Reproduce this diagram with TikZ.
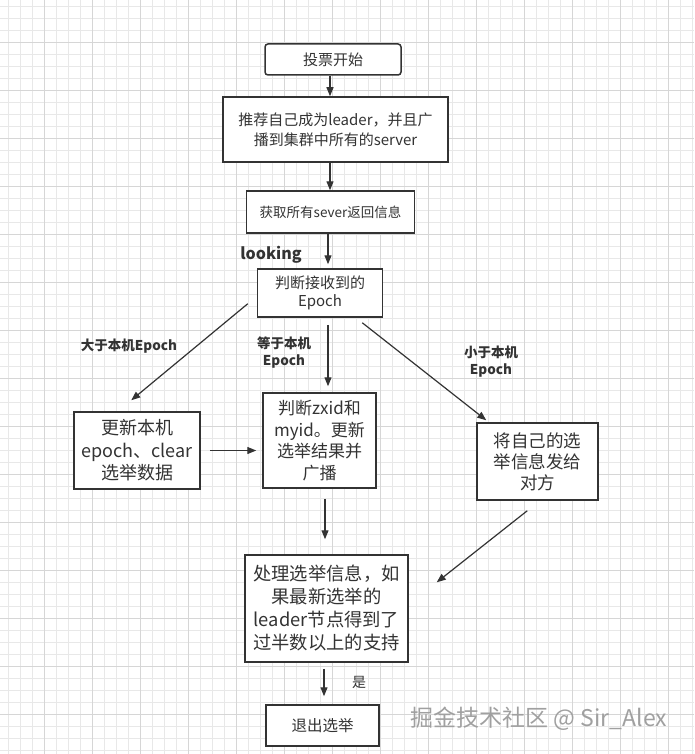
\documentclass[tikz,border=0pt]{standalone}
\usepackage{fontspec}
\setmainfont{Noto Sans CJK SC}
\usetikzlibrary{arrows.meta}
\definecolor{ink}{HTML}{333333}
\definecolor{gridminor}{HTML}{E8E8E8}
\definecolor{gridmajor}{HTML}{D6D6D6}
\definecolor{wm}{HTML}{A0A0A0}
\newcommand{\fs}[2]{\fontsize{#1}{#2}\selectfont}
\tikzset{
  box/.style={draw=ink, line width=1.5pt, fill=white, align=center, inner sep=0pt, text=ink},
  arr/.style={draw=ink, line width=1.2pt, -{Triangle[length=9pt,width=7pt]}},
  lbl/.style={text=ink, align=center, inner sep=0pt, font=\bfseries\fs{13.5}{17}},
  minorline/.style={draw=gridminor, line width=0.6pt},
  majorline/.style={draw=gridmajor, line width=0.8pt}
}
\begin{document}
\begin{tikzpicture}[x=1pt,y=-1pt]
\useasboundingbox (0,0) rectangle (694,754);
\fill[white] (0,0) rectangle (694,754);
% grid
\foreach \x in {8,20,...,692} \draw[minorline] (\x,0) -- (\x,754);
\foreach \y in {6,18,...,750} \draw[minorline] (0,\y) -- (694,\y);
\foreach \x in {44,92,...,692} \draw[majorline] (\x,0) -- (\x,754);
\foreach \y in {42,90,...,750} \draw[majorline] (0,\y) -- (694,\y);
% coordinates for vertical arrow lines
\coordinate (c330) at (330,0);
\coordinate (c328) at (328,0);
\coordinate (c325) at (325,0);
\coordinate (c324) at (324,0);
% nodes
\node[box, rounded corners=3pt, minimum width=136pt, minimum height=31pt, font=\fs{15}{19}] (start) at (333,59.5) {投票开始};
\node[box, minimum width=225pt, minimum height=65pt, font=\fs{15}{20}] (rec) at (335.5,129.5) {推荐自己成为leader，并且广\\播到集群中所有的server};
\node[box, minimum width=168pt, minimum height=42pt, font=\fs{13.5}{17}] (get) at (330.5,212) {获取所有sever返回信息};
\node[box, minimum width=125pt, minimum height=48pt, font=\fs{15}{18}] (judge) at (320,293) {判断接收到的\\Epoch};
\node[box, minimum width=126pt, minimum height=77pt, font=\fs{18}{22.5}] (upd) at (137,450.5) {更新本机\\epoch、clear\\选举数据};
\node[box, minimum width=113pt, minimum height=95pt, font=\fs{17}{21.5}] (zx) at (319.5,440.5) {判断zxid和\\myid。更新\\选举结果并\\广播};
\node[box, minimum width=121pt, minimum height=77pt, font=\fs{17.5}{21}] (self) at (537.5,461.5) {将自己的选\\举信息发给\\对方};
\node[box, minimum width=163pt, minimum height=107pt, font=\fs{18.3}{23}] (proc) at (326.5,608.5) {处理选举信息，如\\果最新选举的\\leader节点得到了\\过半数以上的支持};
\node[box, minimum width=113pt, minimum height=41pt, font=\fs{15.5}{19}] (exit) at (322.5,725.5) {退出选举};
% labels
\node[lbl, font=\bfseries\fs{16}{19}] (looking) at (271,255) {looking};
\node[lbl] (gt) at (129,346) {大于本机Epoch};
\node[lbl] (eq) at (284,353) {等于本机\\Epoch};
\node[lbl] (lt) at (491,361.5) {小于本机\\Epoch};
\node[text=ink, inner sep=0pt, font=\fs{14}{17}] (yes) at (359,682) {是};
\node[text=wm, inner sep=0pt, font=\fs{23}{26}] (mark) at (539,719) {掘金技术社区 @ Sir\_Alex};
% connectors
\draw[arr] (start.south -| c330) -- (rec.north -| c330);
\draw[arr] (rec.south -| c330) -- (get.north -| c330);
\draw[arr, shorten >=4pt] (get.south -| c328) -- (judge.north -| c328);
\draw[arr] ([xshift=-9pt,yshift=14pt]judge.south west) -- ([xshift=58pt,yshift=11pt]upd.north west);
\draw[arr, shorten <=7pt, shorten >=6pt] (judge.south -| c328) -- (zx.north -| c328);
\draw[arr] ([xshift=-21pt,yshift=-5pt]judge.south east) -- ([xshift=10pt,yshift=2pt]self.north west);
\draw[arr, shorten <=9pt, shorten >=6pt] (upd.east) -- (upd.east -| zx.west);
\draw[arr, shorten <=10pt, shorten >=15pt] (zx.south -| c325) -- (proc.north -| c325);
\draw[arr] ([xshift=51pt,yshift=-10pt]self.south west) -- ([xshift=28pt,yshift=-28pt]proc.north east);
\draw[arr, shorten <=6pt, shorten >=8pt] (proc.south -| c324) -- (exit.north -| c324);
\end{tikzpicture}
\end{document}
